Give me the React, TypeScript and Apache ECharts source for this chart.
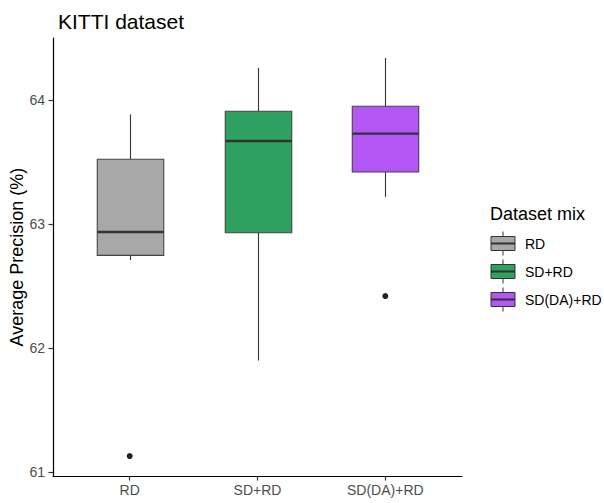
import React, { useEffect, useRef } from "react";
import * as echarts from "echarts";

const categories = ["RD", "SD+RD", "SD(DA)+RD"];
// [min, Q1, median, Q3, max]
const boxStats = [
  [62.71, 62.748, 62.936, 63.523, 63.885],
  [61.9, 62.93, 63.67, 63.91, 64.26],
  [63.22, 63.42, 63.73, 63.95, 64.34],
];
// [category index (1-based), value]
const outliers = [
  [1, 61.13],
  [3, 62.42],
];
const fills = ["#A8A8A8", "#2EA060", "#B356F5"];
const yTicks = [61, 62, 63, 64];
const xTicks = [1, 2, 3];

const FONT = "Liberation Sans, Arial, sans-serif";

export default function App() {
  const ref = useRef<HTMLDivElement>(null);
  useEffect(() => {
    if (!ref.current) return;
    const chart = echarts.init(ref.current, null, { renderer: "svg" });
    const allVals = boxStats.flat().concat(outliers.map((o) => o[1]));
    const dMin = Math.min(...allVals);
    const dMax = Math.max(...allVals);
    const pad = (dMax - dMin) * 0.05;
    const boxWidth = 0.52;
    const line = "#333333";

    const legendX = 491;
    const legendY0 = 243.5;
    const legendStep = 28;
    const legendChildren: any[] = [
      {
        type: "text",
        x: 490,
        y: 214,
        style: { text: "Dataset mix", font: `18px ${FONT}`, fill: "#000", textVerticalAlign: "middle" },
      },
    ];
    categories.forEach((c, i) => {
      const cy = legendY0 + i * legendStep;
      legendChildren.push(
        { type: "line", shape: { x1: legendX + 12, y1: cy - 12, x2: legendX + 12, y2: cy + 12 }, style: { stroke: line, lineWidth: 1 } },
        { type: "rect", shape: { x: legendX, y: cy - 7, width: 24, height: 14 }, style: { fill: fills[i], stroke: line, lineWidth: 1 } },
        { type: "line", shape: { x1: legendX, y1: cy, x2: legendX + 24, y2: cy }, style: { stroke: line, lineWidth: 2 } },
        {
          type: "text",
          x: 525,
          y: cy,
          style: { text: c, font: `14px ${FONT}`, fill: "#000", textVerticalAlign: "middle" },
        }
      );
    });

    chart.setOption({
      animation: false,
      backgroundColor: "#fff",
      title: {
        text: "KITTI dataset",
        left: 53,
        top: 6,
        textStyle: { fontFamily: FONT, fontSize: 21, fontWeight: "normal", color: "#000" },
      },
      grid: { left: 53, right: 142, top: 38, bottom: 27, containLabel: false, outerBoundsMode: "none" },
      xAxis: {
        type: "value",
        min: 0.4,
        max: 3.6,
        splitLine: { show: false },
        axisLine: { show: true, lineStyle: { color: "#000", width: 1.2 } },
        axisTick: { show: true, customValues: xTicks, length: 4.5, lineStyle: { color: "#333", width: 1.2 } },
        axisLabel: {
          customValues: xTicks,
          formatter: (v: number) => categories[Math.round(v) - 1] ?? "",
          color: "#4D4D4D",
          fontFamily: FONT,
          fontSize: 14,
          margin: 7,
        },
      },
      yAxis: {
        type: "value",
        min: dMin - pad,
        max: dMax + pad,
        name: "Average Precision (%)",
        nameLocation: "middle",
        nameGap: 27,
        nameMoveOverlap: false,
        nameTextStyle: { fontFamily: FONT, fontSize: 18, color: "#000" },
        splitLine: { show: false },
        axisLine: { show: true, lineStyle: { color: "#000", width: 1.2 } },
        axisTick: { show: true, customValues: yTicks, length: 4.5, lineStyle: { color: "#333", width: 1.2 } },
        axisLabel: {
          customValues: yTicks,
          formatter: (v: number) => String(v),
          color: "#4D4D4D",
          fontFamily: FONT,
          fontSize: 14,
          margin: 8,
        },
      },
      series: [
        {
          type: "custom",
          data: boxStats.map((s, i) => [i + 1, ...s]),
          encode: { x: 0, y: [1, 2, 3, 4, 5] },
          renderItem: (params: any, api: any) => {
            const x = api.value(0);
            const lo = api.coord([x, api.value(1)]);
            const q1 = api.coord([x, api.value(2)]);
            const med = api.coord([x, api.value(3)]);
            const q3 = api.coord([x, api.value(4)]);
            const hi = api.coord([x, api.value(5)]);
            const w = api.size([boxWidth, 0])[0];
            const cx = Math.round(lo[0]) + 0.5;
            return {
              type: "group",
              children: [
                { type: "line", shape: { x1: cx, y1: lo[1], x2: cx, y2: q1[1] }, style: { stroke: line, lineWidth: 1.1 } },
                { type: "line", shape: { x1: cx, y1: hi[1], x2: cx, y2: q3[1] }, style: { stroke: line, lineWidth: 1.1 } },
                {
                  type: "rect",
                  shape: { x: cx - w / 2, y: q3[1], width: w, height: q1[1] - q3[1] },
                  style: { fill: fills[params.dataIndex], stroke: "#444", lineWidth: 1.1 },
                },
                {
                  type: "line",
                  shape: { x1: cx - w / 2, y1: med[1], x2: cx + w / 2, y2: med[1] },
                  style: { stroke: line, lineWidth: 2.4 },
                },
              ],
            };
          },
        },
        {
          type: "scatter",
          data: outliers,
          symbol: "circle",
          symbolSize: 6,
          itemStyle: { color: "#222", opacity: 1 },
        },
      ],
      graphic: legendChildren,
    });
    return () => chart.dispose();
  }, []);
  return <div ref={ref} style={{ position: "absolute", left: 0, top: 0, width: 604, height: 503 }} />;
}
